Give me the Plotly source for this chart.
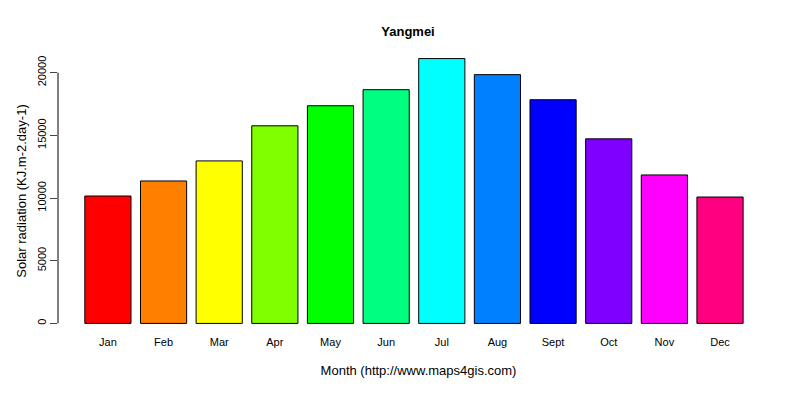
import plotly.graph_objects as go

months = ["Jan","Feb","Mar","Apr","May","Jun","Jul","Aug","Sept","Oct","Nov","Dec"]
values = [10160,11360,12960,15760,17360,18640,21120,19840,17840,14720,11840,10080]
colors = ["#FF0000","#FF8000","#FFFF00","#80FF00","#00FF00","#00FF80",
          "#00FFFF","#0080FF","#0000FF","#8000FF","#FF00FF","#FF0080"]
yticks = [0,5000,10000,15000,20000]

fig = go.Figure(go.Bar(x=list(range(len(months))), y=values, marker_color=colors,
                       marker_line_color="black", marker_line_width=1, width=0.83))
font = dict(family="Liberation Sans, Arial", size=11, color="black")
fig.update_layout(
    width=800, height=400, plot_bgcolor="white", paper_bgcolor="white",
    margin=dict(l=50, r=29, t=40, b=74), font=font, showlegend=False,
    title=dict(text="<b>Yangmei</b>", x=0.5, xanchor="center", y=0.942, yanchor="middle",
               font=dict(family="Liberation Sans, Arial", size=13)),
    xaxis=dict(range=[-0.897, 12.06], tickvals=list(range(12)), ticktext=months,
               showline=False, showgrid=False, zeroline=False, ticks="", ticklen=0,
               title=dict(text="Month (http://www.maps4gis.com)", standoff=18)),
    yaxis=dict(range=[-845, 21965], tickvals=yticks, ticktext=[str(v) for v in yticks],
               tickangle=-90, ticks="outside", ticklen=7, showgrid=False, zeroline=False,
               showline=False,
               title=dict(text="Solar radiation (KJ.m-2.day-1)", standoff=6)),
)
fig.add_shape(type="line", xref="paper", yref="y", x0=0, x1=0, y0=0, y1=20000,
              line=dict(color="black", width=1))
fig.write_html("out.html")
